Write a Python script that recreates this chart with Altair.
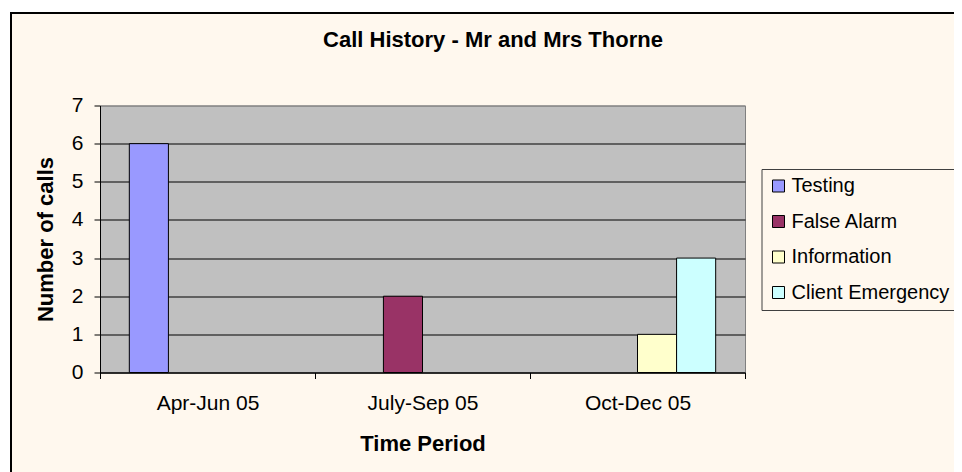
import altair as alt
import pandas as pd

periods = ["Apr-Jun 05", "July-Sep 05", "Oct-Dec 05"]
series = ["Testing", "False Alarm", "Information", "Client Emergency"]
testing = [6, 0, 0]
false_alarm = [0, 2, 0]
information = [0, 0, 1]
client_emergency = [0, 0, 3]
colors = ["#9999FF", "#993366", "#FFFFCC", "#CCFFFF"]

rows = []
for name, vals in zip(series, [testing, false_alarm, information, client_emergency]):
    for p, v in zip(periods, vals):
        rows.append({"period": p, "series": name, "calls": v})
df = pd.DataFrame(rows)

FONT = "Liberation Sans"
CREAM = "#FFF8EE"

bars = alt.Chart(df).transform_filter("datum.calls > 0").mark_bar(
    stroke="black", strokeWidth=1, opacity=1
).encode(
    x=alt.X("period:N", sort=periods,
            scale=alt.Scale(paddingInner=0, paddingOuter=0),
            axis=alt.Axis(title="Time Period", labelAngle=0, tickBand="extent",
                          labelFontSize=21, labelFont=FONT, labelColor="black",
                          labelPadding=13.5, tickSize=6, tickColor="black",
                          domainColor="black", titleFontSize=22, titleFont=FONT,
                          titleFontWeight="bold", titleColor="black", titlePadding=20,
                          grid=False)),
    xOffset=alt.XOffset("series:N", sort=series,
                        scale=alt.Scale(domain=series, paddingInner=0, paddingOuter=0.75)),
    y=alt.Y("calls:Q", scale=alt.Scale(domain=[0, 7], nice=False),
            axis=alt.Axis(title="Number of calls", values=list(range(8)),
                          labelFontSize=21, labelFont=FONT, labelColor="black",
                          labelPadding=11, tickSize=6, tickColor="black",
                          domainColor="black", titleFontSize=22, titleFont=FONT,
                          titleFontWeight="bold", titleColor="black", titlePadding=13.5,
                          grid=True,
                          gridColor={"condition": {"test": "datum.value === 7", "value": "#808080"},
                                     "value": "black"},
                          gridOpacity=1, gridWidth=1)),
    color=alt.Color("series:N", sort=series,
                    scale=alt.Scale(domain=series, range=colors),
                    legend=alt.Legend(orient="none", legendX=661.5, legendY=63.5, title=None,
                                      symbolType="square", symbolSize=144,
                                      symbolStrokeColor="black", symbolStrokeWidth=1,
                                      symbolOpacity=1, labelLimit=400,
                                      labelFontSize=20, labelFont=FONT, labelColor="black",
                                      labelOffset=3, rowPadding=15.5, padding=7,
                                      strokeColor="#404040", fillColor=CREAM)),
)

frame_data = alt.Data(values=[{"k": 1}])
white_edge = alt.Chart(frame_data).mark_rect(
    fillOpacity=0, stroke="white", strokeWidth=10
).encode(x=alt.value(-95), x2=alt.value(3000), y=alt.value(-98.5), y2=alt.value(3000))
black_edge = alt.Chart(frame_data).mark_rect(
    fillOpacity=0, stroke="black", strokeWidth=2
).encode(x=alt.value(-89), x2=alt.value(3000), y=alt.value(-92.5), y2=alt.value(3000))

chart = alt.layer(white_edge, black_edge, bars).properties(
    width=645, height=267,
    autosize=alt.AutoSizeParams(type="none"),
    padding={"left": 92, "top": 97.5, "right": 209, "bottom": 99.5},
    background=CREAM,
    title=alt.TitleParams("Call History - Mr and Mrs Thorne", fontSize=22,
                          fontWeight="bold", font=FONT, color="black",
                          anchor="middle", dx=70.5, offset=0,
                          baseline="alphabetic", dy=67),
).configure_view(fill="#C0C0C0", stroke="#808080", strokeWidth=1)

chart.save("out.html", embed_options={"renderer": "svg", "actions": False})
